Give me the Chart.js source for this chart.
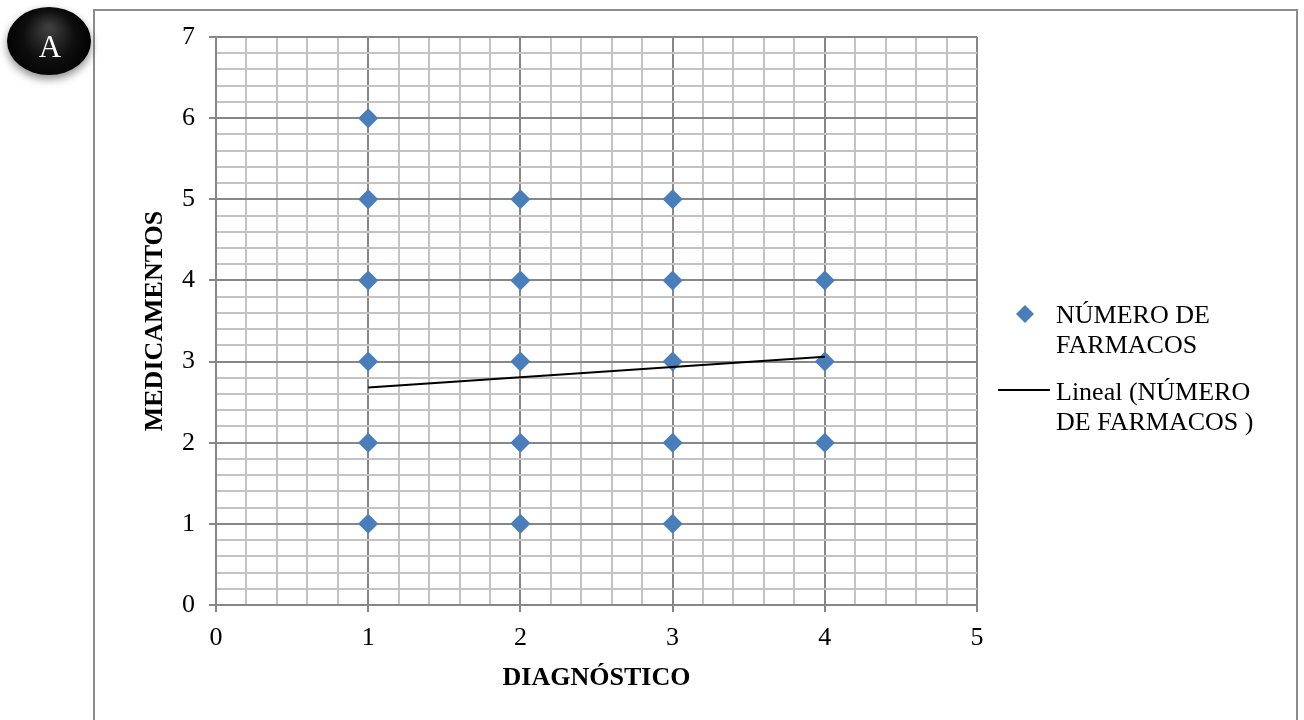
<!DOCTYPE html>
<html lang="es">
<head>
<meta charset="utf-8">
<title>Medicamentos por diagnóstico</title>
<script src="https://cdn.jsdelivr.net/npm/chart.js@4/dist/chart.umd.min.js"></script>
<style>
  html, body { margin: 0; padding: 0; background: #fff; }
  canvas { display: block; }
</style>
</head>
<body>
<canvas id="grafico" width="1304" height="720"></canvas>
<script>
// Diagnóstico (x) y número de fármacos (y) de cada punto
const diagnostico    = [1, 1, 1, 1, 1, 1, 2, 2, 2, 2, 2, 3, 3, 3, 3, 3, 4, 4, 4];
const numeroFarmacos = [6, 5, 4, 3, 2, 1, 5, 4, 3, 2, 1, 5, 4, 3, 2, 1, 4, 3, 2];

// Línea de tendencia lineal (extremos)
const tendenciaX = [1, 4];
const tendenciaY = [2.68, 3.06];

// Etiquetas de los ejes
const ticksX = [0, 1, 2, 3, 4, 5];
const ticksY = [0, 1, 2, 3, 4, 5, 6, 7];

const etiquetaSerie = 'NÚMERO DE FARMACOS';
const etiquetaTendencia = 'Lineal (NÚMERO DE FARMACOS )';
const tituloX = 'DIAGNÓSTICO';
const tituloY = 'MEDICAMENTOS';

const FUENTE = '"Liberation Serif", "Times New Roman", Times, serif';
const AZUL = '#4a7ebb';
const GRIS_MAYOR = '#878787';
const GRIS_MENOR = '#c3c3c3';

const esEntero = v => Math.abs(v - Math.round(v)) < 1e-6;

const puntos = diagnostico.map((x, i) => ({ x: x, y: numeroFarmacos[i] }));
const tendencia = tendenciaX.map((x, i) => ({ x: x, y: tendenciaY[i] }));

// Fondo, marco y distintivo "A"
const marcoPlugin = {
  id: 'marco',
  beforeDraw(chart) {
    const ctx = chart.ctx;
    ctx.save();
    ctx.fillStyle = '#fff';
    ctx.fillRect(0, 0, chart.width, chart.height);
    ctx.strokeStyle = '#8c8c8c';
    ctx.lineWidth = 2;
    ctx.strokeRect(94, 10, 1203, 730);
    ctx.restore();
  },
  afterDraw(chart) {
    const ctx = chart.ctx;
    ctx.save();
    ctx.shadowColor = 'rgba(0,0,0,0.45)';
    ctx.shadowBlur = 8;
    ctx.shadowOffsetY = 4;
    const g = ctx.createRadialGradient(49, 28, 3, 49, 42, 44);
    g.addColorStop(0, '#3c3c3c');
    g.addColorStop(0.55, '#0e0e0e');
    g.addColorStop(1, '#000');
    ctx.fillStyle = g;
    ctx.beginPath();
    ctx.ellipse(49, 41, 42, 34, 0, 0, Math.PI * 2);
    ctx.fill();
    ctx.restore();
    ctx.save();
    ctx.fillStyle = '#fff';
    ctx.font = '31px ' + FUENTE;
    ctx.textAlign = 'center';
    ctx.textBaseline = 'alphabetic';
    ctx.fillText('A', 50, 57);
    ctx.restore();
  }
};

// Leyenda a la derecha con texto en varias líneas
function partirTexto(ctx, texto, ancho) {
  const palabras = texto.split(' ');
  const lineas = [];
  let actual = '';
  palabras.forEach(p => {
    const prueba = actual ? actual + ' ' + p : p;
    if (actual && ctx.measureText(prueba).width > ancho) {
      lineas.push(actual);
      actual = p;
    } else {
      actual = prueba;
    }
  });
  if (actual) lineas.push(actual);
  return lineas;
}

const leyendaPlugin = {
  id: 'leyendaLateral',
  afterDraw(chart) {
    const ctx = chart.ctx;
    const ds = chart.data.datasets;
    const xTexto = 1056;
    const interlinea = 30;
    ctx.save();
    ctx.font = '26px ' + FUENTE;
    ctx.fillStyle = '#000';
    ctx.textAlign = 'left';
    ctx.textBaseline = 'alphabetic';

    // Serie de puntos
    let y = 314;
    ctx.fillStyle = ds[0].backgroundColor;
    ctx.beginPath();
    ctx.moveTo(1025 - 9, y);
    ctx.lineTo(1025, y - 9);
    ctx.lineTo(1025 + 9, y);
    ctx.lineTo(1025, y + 9);
    ctx.closePath();
    ctx.fill();
    ctx.fillStyle = '#000';
    partirTexto(ctx, ds[0].label, 220).forEach((l, i) => {
      ctx.fillText(l, xTexto, y + 9 + i * interlinea);
    });

    // Línea de tendencia
    y = 391;
    ctx.strokeStyle = ds[1].borderColor;
    ctx.lineWidth = 2;
    ctx.beginPath();
    ctx.moveTo(998, 390);
    ctx.lineTo(1050, 390);
    ctx.stroke();
    partirTexto(ctx, ds[1].label, 220).forEach((l, i) => {
      ctx.fillText(l, xTexto, y + 9 + i * interlinea);
    });
    ctx.restore();
  }
};

const gridMayorMenor = {
  color: c => esEntero(c.tick.value) ? GRIS_MAYOR : GRIS_MENOR,
  tickColor: c => esEntero(c.tick.value) ? GRIS_MAYOR : 'rgba(0,0,0,0)',
  lineWidth: 2,
  tickWidth: 2,
  tickLength: 7,
  drawTicks: true
};

new Chart(document.getElementById('grafico'), {
  type: 'scatter',
  data: {
    datasets: [
      {
        label: etiquetaSerie,
        data: puntos,
        pointStyle: 'rectRot',
        pointRadius: 10,
        backgroundColor: AZUL,
        borderColor: AZUL,
        borderWidth: 0,
        order: 1
      },
      {
        type: 'line',
        label: etiquetaTendencia,
        data: tendencia,
        borderColor: '#000',
        borderWidth: 2,
        pointRadius: 0,
        fill: false,
        order: 0
      }
    ]
  },
  options: {
    responsive: false,
    devicePixelRatio: 1,
    animation: false,
    events: [],
    layout: { padding: { left: 136, top: 37, right: 327, bottom: 15 } },
    plugins: {
      legend: { display: false },
      tooltip: { enabled: false }
    },
    scales: {
      x: {
        type: 'linear',
        position: 'bottom',
        min: 0,
        max: 5,
        afterFit: s => { s.height = 100; },
        ticks: {
          stepSize: 0.2,
          maxTicksLimit: 100,
          autoSkip: false,
          maxRotation: 0,
          padding: 11,
          color: '#000',
          font: { family: FUENTE, size: 26, lineHeight: 1.2 },
          callback: v => ticksX.find(t => Math.abs(t - v) < 1e-6) !== undefined ? String(Math.round(v)) : ''
        },
        grid: gridMayorMenor,
        border: { color: GRIS_MAYOR, width: 2 },
        title: {
          display: true,
          text: tituloX,
          color: '#000',
          padding: { top: 0, bottom: 11 },
          font: { family: FUENTE, size: 26, weight: 'bold', lineHeight: 1.2 }
        }
      },
      y: {
        type: 'linear',
        position: 'left',
        min: 0,
        max: 7,
        afterFit: s => { s.width = 80; },
        ticks: {
          stepSize: 0.2,
          maxTicksLimit: 100,
          autoSkip: false,
          padding: 14,
          color: '#000',
          font: { family: FUENTE, size: 26, lineHeight: 1.2 },
          callback: v => ticksY.find(t => Math.abs(t - v) < 1e-6) !== undefined ? String(Math.round(v)) : ''
        },
        grid: gridMayorMenor,
        border: { color: GRIS_MAYOR, width: 2 },
        title: {
          display: true,
          text: tituloY,
          color: '#000',
          padding: { top: 4, bottom: 0 },
          font: { family: FUENTE, size: 26, weight: 'bold', lineHeight: 1.2 }
        }
      }
    }
  },
  plugins: [marcoPlugin, leyendaPlugin]
});
</script>
</body>
</html>
